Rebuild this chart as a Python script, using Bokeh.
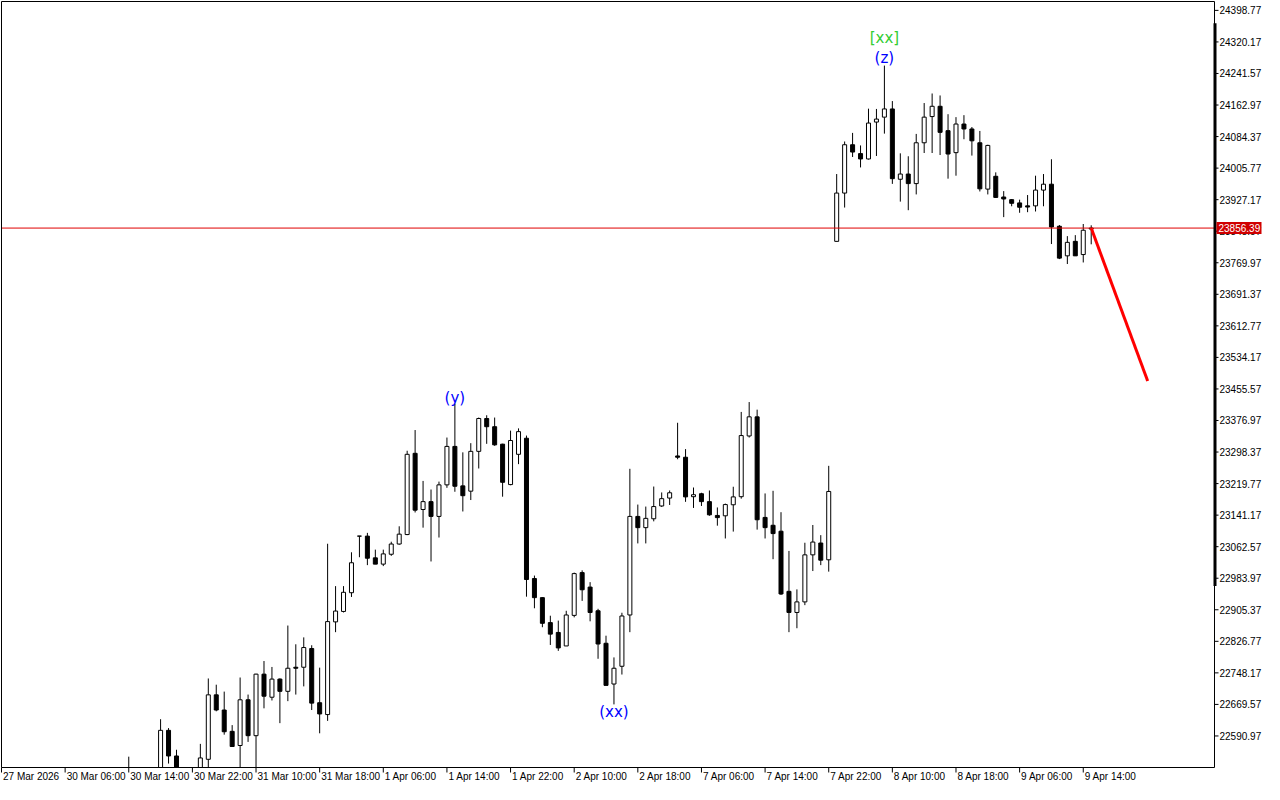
from bokeh.plotting import figure
from bokeh.models import ColumnDataSource, Range1d
from bokeh.core.properties import value
from bokeh.embed import file_html
from bokeh.resources import INLINE

# ---------------- data (H1 bars, index = bar number) ----------------
bar_idx = [16, 20, 21, 22, 25] + list(range(26, 138))

opens = [22450.0, 22470.0, 22605.0, 22541.1, 22480.0,
         22532.8, 22693.4, 22655.6, 22602.5, 22567.2, 22681.1, 22591.7, 22745.0, 22687.5, 22732.7,
         22702.2, 22762.2, 22762.2, 22808.8, 22673.8, 22644.3, 22875.2, 22901.2, 22947.9, 23088.9,
         23088.9, 23034.8, 23019.1, 23043.7, 23069.2, 23092.8, 23295.2, 23155.2, 23174.8, 23138.0,
         23216.6, 23312.4, 23214.1, 23200.9, 23300.1, 23381.9, 23361.5, 23318.0, 23217.3, 23292.7,
         23332.8, 22983.2, 22935.6, 22873.4, 22848.9, 22815.2, 22891.4, 22998.0, 22961.9, 22902.9,
         22821.9, 22720.4, 22764.6, 22892.4, 23138.0, 23110.0, 23132.1, 23164.0, 23183.7, 23288.6,
         23285.4, 23187.1, 23194.5, 23174.8, 23140.4, 23139.5, 23167.0, 23187.1, 23338.4, 23386.1,
         23135.5, 23115.9, 23101.1, 22951.3, 22898.7, 22925.0, 23042.2, 23071.7, 23029.9, 23823.3,
         23943.6, 24064.0, 24041.9, 24028.6, 24120.5, 24132.8, 24153.2, 23978.0, 23991.0, 23967.2,
         24068.9, 24134.2, 24159.8, 24099.1, 24044.3, 24115.6, 24103.3, 24068.9, 23953.5, 23985.4,
         23933.8, 23927.2, 23919.1, 23911.7, 23911.7, 23951.0, 23965.7, 23860.9, 23787.2, 23823.3,
         23790.4, 23854.0]

highs = [22539.4, 22632.7, 22610.6, 22556.6, 22571.3,
         22734.2, 22718.7, 22701.5, 22618.0, 22736.6, 22694.1, 22746.0, 22777.7, 22762.9, 22734.5,
         22866.1, 22819.4, 22836.6, 22817.0, 22761.2, 23069.9, 22964.3, 22964.3, 23048.6, 23088.9,
         23097.0, 23055.2, 23055.2, 23074.9, 23113.4, 23301.6, 23353.2, 23226.4, 23205.0, 23224.7,
         23334.5, 23418.7, 23297.6, 23320.5, 23384.3, 23390.0, 23384.3, 23319.0, 23351.7, 23357.3,
         23339.4, 22990.6, 22936.5, 22890.6, 22878.4, 22902.9, 22998.0, 23003.6, 22974.2, 22907.8,
         22840.8, 22786.7, 22898.0, 23256.6, 23167.5, 23162.5, 23212.4, 23197.7, 23202.6, 23371.3,
         23305.7, 23210.0, 23196.9, 23202.6, 23160.3, 23169.9, 23211.9, 23398.3, 23422.9, 23404.0,
         23195.2, 23201.8, 23148.5, 23052.0, 22956.2, 23072.4, 23116.6, 23091.3, 23264.0, 23991.0,
         24072.1, 24093.5, 24062.3, 24153.9, 24153.2, 24261.2, 24172.8, 24042.6, 24035.3, 24091.0,
         24167.9, 24191.7, 24186.8, 24140.1, 24132.8, 24137.7, 24108.2, 24098.4, 24064.0, 23995.2,
         23948.5, 23928.5, 23927.2, 23938.7, 23986.9, 23991.0, 24027.9, 23864.0, 23836.3, 23838.8,
         23866.5, 23863.3]

lows = [22430.0, 22440.0, 22522.2, 22470.0, 22460.0,
        22490.0, 22652.4, 22594.2, 22564.7, 22480.0, 22576.2, 22480.0, 22659.8, 22679.4, 22622.9,
        22677.7, 22694.1, 22714.5, 22655.6, 22597.6, 22628.6, 22849.6, 22898.7, 22937.3, 23036.3,
        23016.6, 23019.1, 23014.2, 23039.7, 23067.5, 23091.3, 23147.8, 23110.0, 23025.7, 23085.4,
        23209.2, 23199.4, 23150.3, 23178.8, 23257.4, 23318.8, 23313.9, 23187.1, 23215.6, 23268.2,
        22938.0, 22909.1, 22861.9, 22817.7, 22803.0, 22815.2, 22886.5, 22927.5, 22876.6, 22783.3,
        22717.0, 22669.6, 22744.0, 22849.6, 23070.7, 23070.7, 23125.7, 23161.6, 23166.5, 23280.4,
        23174.3, 23159.1, 23164.0, 23139.5, 23114.9, 23083.0, 23100.2, 23182.2, 23334.5, 23105.1,
        23083.0, 23031.4, 22942.2, 22849.6, 22859.4, 22916.9, 23001.9, 23016.6, 23000.4, 23823.3,
        23907.5, 24033.5, 24007.5, 24027.1, 24036.0, 24091.7, 23966.5, 23922.3, 23900.9, 23940.2,
        24043.4, 24043.4, 24038.4, 23979.5, 23986.9, 24077.7, 24037.0, 23947.6, 23940.2, 23931.4,
        23883.7, 23910.7, 23894.5, 23896.0, 23897.7, 23910.7, 23816.6, 23779.1, 23766.8, 23787.2,
        23770.7, 23815.9]

closes = [22480.0, 22605.0, 22541.1, 22490.0, 22536.2,
          22693.4, 22655.6, 22601.5, 22564.7, 22681.1, 22591.7, 22745.0, 22690.0, 22732.7, 22702.2,
          22759.7, 22759.7, 22811.3, 22672.8, 22645.8, 22875.9, 22902.2, 22948.9, 23022.5, 23088.9,
          23033.8, 23019.1, 23044.6, 23069.2, 23093.8, 23292.7, 23153.5, 23174.8, 23138.0, 23216.6,
          23312.4, 23213.1, 23189.6, 23300.1, 23381.9, 23361.5, 23316.3, 23223.0, 23327.1, 23349.2,
          22980.8, 22935.6, 22871.7, 22844.7, 22810.3, 22892.4, 22995.5, 22955.2, 22898.7, 22820.1,
          22717.0, 22759.7, 22889.9, 23138.0, 23110.0, 23133.1, 23162.5, 23182.2, 23196.9, 23285.4,
          23186.6, 23192.0, 23174.8, 23141.9, 23135.0, 23167.5, 23186.6, 23339.4, 23386.1, 23129.6,
          23110.0, 23095.2, 22944.7, 22898.7, 22925.0, 23042.2, 23074.1, 23028.9, 23200.1, 23943.6,
          24064.0, 24045.8, 24028.6, 24118.0, 24127.9, 24153.2, 23979.5, 23991.0, 23967.2, 24068.9,
          24132.8, 24159.8, 24094.9, 24040.9, 24115.6, 24103.3, 24073.8, 23954.2, 24062.3, 23932.8,
          23928.9, 23918.1, 23908.3, 23908.8, 23951.0, 23965.7, 23859.1, 23781.5, 23820.8, 23787.2,
          23851.0, 23856.39]

# time-axis tick bars and labels
tick_idx = [0, 8, 16, 24, 32, 40, 48, 56, 64, 72, 80, 88, 96, 104, 112, 120, 128, 136]
tick_labels = ["27 Mar 2026", "30 Mar 06:00", "30 Mar 14:00", "30 Mar 22:00", "31 Mar 10:00",
               "31 Mar 18:00", "1 Apr 06:00", "1 Apr 14:00", "1 Apr 22:00", "2 Apr 10:00",
               "2 Apr 18:00", "7 Apr 06:00", "7 Apr 14:00", "7 Apr 22:00", "8 Apr 10:00",
               "8 Apr 18:00", "9 Apr 06:00", "9 Apr 14:00"]

# price-scale ticks
y_ticks = [22590.97, 22669.57, 22748.17, 22826.77, 22905.37, 22983.97, 23062.57, 23141.17,
           23219.77, 23298.37, 23376.97, 23455.57, 23534.17, 23612.77, 23691.37, 23769.97,
           23848.57, 23927.17, 24005.77, 24084.37, 24162.97, 24241.57, 24320.17, 24398.77]

# forecast line
fc_x = [137, 144.1]
fc_y = [23856.39, 23475.2]

# wave labels
wave_text = ["[xx]", "(z)", "(y)", "(xx)"]
wave_x = [111, 111, 57, 77]
wave_y = [24330.0, 24280.9, 23433.5, 22649.9]
wave_color = ["#32CD32", "#0000FF", "#0000FF", "#0000FF"]

# ---------------- layout of the chart window ----------------
W, H = 1264, 784
CHART_X0, CHART_X1 = 0.0, 152.5          # bar range of the chart box
CHART_Y0, CHART_Y1 = 22512.4, 24420.9    # price range of the chart box
PPB = 1213 / (CHART_X1 - CHART_X0)        # pixels per bar
PPU = 766 / (CHART_Y1 - CHART_Y0)         # pixels per price unit


def dx(px):
    return px / PPB


def dy(px):
    return px / PPU


x_lo = CHART_X0 - dx(1)
y_lo = CHART_Y0 - dy(17)
p = figure(width=W, height=H, output_backend="svg", toolbar_location=None,
           x_range=Range1d(x_lo, x_lo + dx(W)), y_range=Range1d(y_lo, y_lo + dy(H)),
           x_axis_location=None, y_axis_location=None,
           min_border_left=0, min_border_right=0, min_border_top=0, min_border_bottom=0,
           background_fill_color="white", border_fill_color="white")
p.grid.visible = False
p.outline_line_color = None

AX_FONT = "Liberation Sans"
AX_SIZE = "10px"

# ---- candles (clipped to the chart box) ----
up = [c >= o for o, c in zip(opens, closes)]
vis = [i for i in range(len(bar_idx)) if max(opens[i], closes[i]) > CHART_Y0]
src = ColumnDataSource(dict(
    x=[bar_idx[i] for i in range(len(bar_idx))],
    h=[min(highs[i], CHART_Y1) for i in range(len(bar_idx))],
    l=[max(lows[i], CHART_Y0) for i in range(len(bar_idx))],
))
p.segment(x0="x", y0="h", x1="x", y1="l", source=src, line_color="black", line_width=1)
bsrc = ColumnDataSource(dict(
    x=[bar_idx[i] for i in vis],
    top=[max(opens[i], closes[i]) for i in vis],
    bottom=[max(min(opens[i], closes[i]), CHART_Y0) for i in vis],
    fill=["white" if up[i] else "black" for i in vis],
))
p.vbar(x="x", width=dx(4), top="top", bottom="bottom", source=bsrc,
       fill_color="fill", line_color="black", line_width=1)

# ---- current price line and forecast ----
last_close = closes[-1]
p.segment(x0=[CHART_X0], y0=[last_close], x1=[CHART_X1], y1=[last_close],
          line_color="#E00000", line_width=1)
p.line(fc_x, fc_y, line_color="#FF0000", line_width=3)

# ---- wave labels ----
wsrc = ColumnDataSource(dict(x=wave_x, y=wave_y, text=wave_text, color=wave_color))
p.text(x="x", y="y", text="text", source=wsrc, text_color="color",
       text_font=value("DejaVu Sans"), text_font_size="15px",
       text_align="center", text_baseline="middle")

# ---- chart box frame ----
p.segment(x0=[CHART_X0, CHART_X0, CHART_X0, CHART_X1],
          y0=[CHART_Y1, CHART_Y0, CHART_Y0, CHART_Y0],
          x1=[CHART_X1, CHART_X1, CHART_X0, CHART_X1],
          y1=[CHART_Y1, CHART_Y0, CHART_Y1, CHART_Y1],
          line_color="black", line_width=1)
# thick marker on the price scale
p.quad(left=[CHART_X1 - dx(1)], right=[CHART_X1 + dx(2)],
       top=[24366.8], bottom=[22964.3], fill_color="black", line_color=None)

# ---- price scale (right) ----
p.segment(x0=[CHART_X1] * len(y_ticks), y0=y_ticks,
          x1=[CHART_X1 + dx(4)] * len(y_ticks), y1=y_ticks, line_color="black", line_width=1)
ysrc = ColumnDataSource(dict(x=[CHART_X1 + dx(5)] * len(y_ticks), y=y_ticks,
                             text=[f"{t:.2f}" for t in y_ticks]))
p.text(x="x", y="y", text="text", source=ysrc, text_color="black",
       text_font=value(AX_FONT), text_font_size=AX_SIZE,
       text_align="left", text_baseline="middle")

# current price tag
p.quad(left=[CHART_X1 + dx(2)], right=[CHART_X1 + dx(47)],
       top=[last_close + dy(6)], bottom=[last_close - dy(6)],
       fill_color="#D00000", line_color=None)
p.text(x=[CHART_X1 + dx(4)], y=[last_close], text=[f"{last_close:.2f}"],
       text_color="white", text_font=value(AX_FONT), text_font_size=AX_SIZE,
       text_align="left", text_baseline="middle")

# ---- time scale (bottom) ----
p.segment(x0=tick_idx, y0=[CHART_Y0] * len(tick_idx),
          x1=tick_idx, y1=[CHART_Y0 - dy(5)] * len(tick_idx), line_color="black", line_width=1)
xsrc = ColumnDataSource(dict(x=[t + dx(1.5) for t in tick_idx],
                             y=[CHART_Y0 - dy(3)] * len(tick_idx), text=tick_labels))
p.text(x="x", y="y", text="text", source=xsrc, text_color="black",
       text_font=value(AX_FONT), text_font_size=AX_SIZE,
       text_align="left", text_baseline="top")

open("out.html", "w").write(file_html(p, INLINE))
